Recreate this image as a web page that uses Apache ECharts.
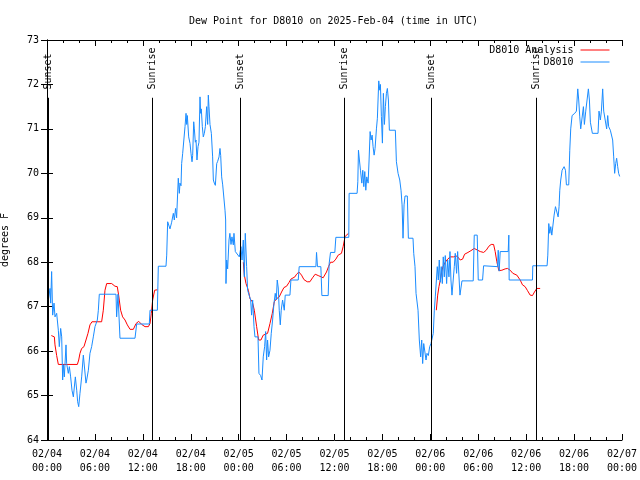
<!DOCTYPE html>
<html><head><meta charset="utf-8">
<script src="https://cdn.jsdelivr.net/npm/echarts@6/dist/echarts.min.js"></script>
<style>html,body{margin:0;padding:0;background:#fff}#c{width:640px;height:480px}</style>
</head><body><div id="c"></div><script>
// ---- data (hours since 2025-02-04 00:00 UTC) ----
const titleText = 'Dew Point for D8010 on 2025-Feb-04 (time in UTC)';
const yTicks = [64, 65, 66, 67, 68, 69, 70, 71, 72, 73];
const xTickHours = [0, 6, 12, 18, 24, 30, 36, 42, 48, 54, 60, 66, 72];

const obsHours = [0.17,0.38,0.46,0.58,0.71,0.88,1.0,1.21,1.42,1.54,1.71,1.84,1.96,2.05,2.17,2.38,2.46,2.67,2.80,2.96,3.13,3.30,3.42,3.55,3.72,3.84,3.97,4.13,4.34,4.55,4.76,4.88,4.97,5.18,5.38,5.59,5.80,6.01,6.30,6.43,6.55,8.64,8.72,8.89,9.14,11.02,11.23,12.81,12.90,13.82,13.94,14.90,14.99,15.11,15.40,15.61,15.82,15.94,16.1,16.23,16.44,16.57,16.65,16.78,16.86,16.99,17.15,17.28,17.41,17.49,17.57,17.74,17.91,18.03,18.16,18.24,18.37,18.45,18.57,18.66,18.78,18.91,19.03,19.16,19.24,19.32,19.45,19.57,19.7,19.83,19.99,20.12,20.2,20.28,20.41,20.58,20.74,20.83,20.95,21.08,21.25,21.37,21.54,21.66,21.75,21.87,22.0,22.16,22.29,22.37,22.41,22.5,22.62,22.79,22.9,23.04,23.16,23.33,23.41,23.58,23.83,24.08,24.29,24.42,24.58,24.71,24.83,25.0,25.12,25.33,25.5,25.62,25.75,25.92,26.04,26.42,26.54,26.75,26.92,27.08,27.25,27.38,27.5,27.62,27.75,27.92,28.08,28.25,28.42,28.58,28.71,28.83,28.96,29.08,29.21,29.33,29.5,29.71,29.83,30.42,30.54,31.46,31.58,33.67,33.75,33.87,34.29,34.42,35.21,35.33,35.5,36.04,36.17,37.79,37.83,38.83,38.92,39.0,39.12,39.25,39.42,39.54,39.67,39.79,39.92,40.04,40.21,40.33,40.46,40.58,40.71,40.83,40.96,41.08,41.25,41.37,41.54,41.67,41.75,41.87,42.0,42.12,42.25,42.37,42.5,42.62,42.75,42.87,43.62,43.75,43.96,44.17,44.33,44.46,44.58,44.71,44.83,45.12,45.25,45.83,45.92,46.08,46.21,46.46,46.62,46.79,46.92,47.04,47.17,47.33,47.46,47.58,47.75,47.92,48.08,48.21,48.37,48.5,48.62,48.79,48.87,49.0,49.12,49.25,49.37,49.5,49.62,49.75,49.87,50.04,50.17,50.33,50.46,50.58,50.71,50.87,51.0,51.12,51.29,51.42,51.58,51.71,51.87,51.96,53.37,53.5,53.87,54.0,54.54,54.67,56.42,56.5,56.62,56.75,57.75,57.83,57.87,60.79,60.83,62.62,62.71,62.83,62.96,63.08,63.21,63.37,63.5,63.67,63.83,64.0,64.12,64.21,64.33,64.5,64.62,64.75,64.92,65.04,65.33,65.46,65.58,65.75,66.08,66.29,66.46,66.58,66.71,66.83,67.04,67.17,67.29,67.46,67.67,67.79,67.92,68.04,68.29,69.0,69.12,69.29,69.42,69.58,69.71,69.96,70.08,70.21,70.33,70.54,70.71,70.83,70.96,71.08,71.21,71.33,71.46,71.58,71.71];
const obsValues = [67.15,67.41,67.08,67.79,66.81,67.08,66.77,66.85,66.47,66.10,66.51,66.32,65.35,65.69,65.42,66.14,65.72,65.5,65.65,65.42,65.12,64.97,64.97,65.42,65.12,64.86,64.75,65.05,65.42,65.91,65.91,65.28,65.35,65.57,65.95,66.10,66.32,66.55,66.7,66.92,67.28,67.28,66.77,67.28,66.29,66.29,66.61,66.61,66.92,66.92,67.91,67.91,68.16,68.91,68.75,68.9,69.1,68.95,69.21,69.0,69.89,69.55,69.78,69.72,70.22,70.45,70.45,71.05,71.35,71.1,71.3,70.82,70.67,70.45,70.26,70.4,71.16,71.0,70.7,70.75,70.3,70.6,70.7,71.72,71.35,71.45,71.05,70.82,70.9,71.05,71.5,71.1,71.76,71.5,71.1,70.9,70.37,69.85,69.78,69.73,70.22,70.27,70.37,70.56,70.4,69.92,69.74,69.74,69.17,68.95,67.52,68.05,67.85,68.5,68.65,68.4,68.57,68.39,68.65,68.24,68.2,68.12,68.35,68.05,68.5,67.67,68.65,67.9,67.37,67.37,67.15,66.81,67.15,66.55,66.32,66.32,65.5,65.45,65.35,65.87,66.1,66.44,65.8,66.25,65.87,66.02,66.4,66.7,67.07,67.3,67.15,67.6,67.42,66.92,66.59,66.92,67.15,66.92,67.26,67.26,67.6,67.6,67.9,67.9,68.22,67.9,67.9,67.25,67.25,67.97,68.22,68.22,68.56,68.56,69.55,69.55,69.81,70.52,70.3,70.07,69.78,70.07,69.7,70.04,69.62,69.92,69.78,70.3,70.94,70.75,70.86,70.6,70.41,70.56,71.0,71.24,72.08,71.87,72.0,71.28,70.68,71.8,71.1,71.5,71.8,71.91,71.65,70.97,70.97,70.26,70.0,69.85,69.62,69.29,68.54,69.29,69.49,69.49,68.54,68.54,68.2,67.9,67.3,66.92,66.25,65.87,66.25,65.72,66.17,66.17,65.8,65.95,65.9,66.1,66.17,66.17,66.4,66.92,67.22,67.22,67.9,67.6,68.05,67.55,67.9,67.52,68.12,67.67,68.15,67.52,68.05,67.67,68.24,67.6,67.26,67.26,67.9,68.2,67.75,68.24,68.27,67.26,67.26,67.58,67.58,68.61,68.61,67.6,67.6,67.92,67.9,68.27,67.8,68.24,68.24,68.61,67.6,67.6,67.92,67.92,68.16,68.87,68.65,68.8,68.61,68.61,69.06,69.25,69.25,69.02,69.25,69.62,69.85,70.07,70.07,70.15,70.07,69.74,69.74,70.52,71.0,71.3,71.35,71.4,71.9,71.65,71.27,71.0,71.0,71.5,71.1,71.4,71.4,71.9,71.65,71.15,70.9,70.9,71.4,71.2,71.4,71.9,71.4,71.4,71.0,71.3,71.05,70.97,70.97,70.75,70.37,70.0,70.22,70.34,70.15,70.0,69.93];

// analysis (null = gap between nightly runs)
const anaHours = [0.54,0.92,1.0,1.21,1.42,1.63,2.25,3.8,3.97,4.13,4.34,4.63,4.88,5.13,5.38,5.63,6.84,7.05,7.26,7.47,7.68,8.1,8.51,8.8,8.97,9.22,9.47,9.77,10.06,10.4,10.81,11.15,11.48,11.86,12.27,12.69,12.9,13.06,13.23,13.48,13.82,
  19.0,
  24.58,24.71,24.92,25.21,25.42,25.71,25.96,26.25,26.5,26.79,27.08,27.62,27.92,28.21,28.46,28.75,29.08,29.37,29.67,30.0,30.29,30.54,31.04,31.25,31.54,31.87,32.17,32.58,32.92,33.25,33.58,33.96,34.58,35.0,35.25,35.5,35.83,36.17,36.46,36.87,37.08,37.33,37.75,
  43.0,
  48.75,48.92,49.08,49.25,49.42,49.58,49.87,50.17,50.5,50.92,51.33,51.75,52.04,52.29,52.71,53.08,53.5,53.92,54.25,54.67,55.0,55.33,55.62,55.92,56.12,56.33,56.58,56.96,57.37,57.67,58.0,58.33,58.83,59.25,59.54,59.87,60.17,60.5,60.79,61.04,61.33,61.75];
const anaValues = [66.35,66.32,66.14,65.9,65.7,65.66,65.7,65.7,65.8,65.95,66.06,66.1,66.25,66.4,66.59,66.66,66.66,66.92,67.37,67.52,67.56,67.52,67.46,67.45,67.26,66.92,66.77,66.7,66.59,66.49,66.49,66.62,66.67,66.6,66.55,66.55,66.62,66.85,67.15,67.37,67.38,
  null,
  68.0,67.71,67.52,67.37,67.18,67.11,66.92,66.55,66.25,66.25,66.36,66.4,66.62,66.85,67.11,67.18,67.22,67.33,67.43,67.46,67.54,67.62,67.67,67.73,67.78,67.71,67.61,67.56,67.56,67.65,67.73,67.7,67.65,67.78,67.9,68.0,68.0,68.07,68.16,68.2,68.35,68.58,68.65,
  null,
  66.92,67.26,67.45,67.6,67.78,67.9,68.0,68.07,68.12,68.12,68.14,68.05,68.07,68.18,68.22,68.26,68.31,68.27,68.24,68.22,68.27,68.36,68.4,68.4,68.24,68.01,67.81,67.82,67.85,67.86,67.82,67.75,67.71,67.6,67.49,67.45,67.36,67.26,67.25,67.33,67.41,67.41];

const sunHours = [0.17, 13.19, 24.2, 37.23, 48.12, 61.27];
const sunNames = ['Sunset', 'Sunrise', 'Sunset', 'Sunrise', 'Sunset', 'Sunrise'];

// ---- layout constants ----
const FONT = 'DejaVu Sans Mono';
const SUN_LINE_TOP = 71.7;
const SUN_LABEL_Y = 71.84;

function pad(n){ return (n < 10 ? '0' : '') + n; }
function fmtX(v){
  const d = 4 + Math.floor(v / 24);
  const h = v % 24;
  return '02/' + pad(d) + '\n' + pad(h) + ':00';
}

const chart = echarts.init(document.getElementById('c'), null, {renderer: 'canvas'});
const obsData = obsHours.map((t, i) => [t, obsValues[i]]);
const anaData = anaHours.map((t, i) => [t, anaValues[i]]);
const sunData = sunHours.map((t, i) => [t, SUN_LABEL_Y, sunNames[i]]);

const txt = {fontFamily: FONT, fontSize: 10, color: '#000'};
const axisLine = {show: true, lineStyle: {color: '#000', width: 1}};
const tick = {show: true, inside: true, length: 6, lineStyle: {color: '#000', width: 1}};
const minor = {show: true, splitNumber: 3, length: 3, lineStyle: {color: '#000', width: 1}};
const legendBase = {right: 30.5, padding: 0, align: 'right', orient: 'vertical', icon: 'rect', itemWidth: 29, itemHeight: 1, selectedMode: false,
  textStyle: Object.assign({padding: [0, 2, 0, 0]}, txt)};

chart.setOption({
  animation: false,
  backgroundColor: '#fff',
  textStyle: {fontFamily: FONT},
  title: {text: titleText, left: 184, top: 11, textStyle: Object.assign({fontWeight: 'normal'}, txt)},
  grid: {left: 47, right: 18, top: 40, bottom: 40, containLabel: false, outerBoundsMode: 'none'},
  legend: [
    Object.assign({data: ['D8010 Analysis'], top: 45}, legendBase),
    Object.assign({data: ['D8010'], top: 57}, legendBase)
  ],
  xAxis: [
    {type: 'value', min: xTickHours[0], max: xTickHours[xTickHours.length - 1], interval: 6, position: 'bottom',
     axisLine, axisTick: tick, minorTick: minor, splitLine: {show: false}, minorSplitLine: {show: false},
     axisLabel: Object.assign({formatter: fmtX, lineHeight: 14, margin: 7}, txt)},
    {type: 'value', min: xTickHours[0], max: xTickHours[xTickHours.length - 1], interval: 6, position: 'top',
     axisLine, axisTick: tick, minorTick: minor, splitLine: {show: false}, axisLabel: {show: false}}
  ],
  yAxis: [
    {type: 'value', min: yTicks[0], max: yTicks[yTicks.length - 1], interval: 1, position: 'left',
     name: 'degrees F', nameLocation: 'middle', nameGap: 37, nameRotate: 90, nameTextStyle: txt,
     axisLine, axisTick: tick, splitLine: {show: false}, axisLabel: Object.assign({margin: 8}, txt)},
    {type: 'value', min: yTicks[0], max: yTicks[yTicks.length - 1], interval: 1, position: 'right',
     axisLine, axisTick: tick, splitLine: {show: false}, axisLabel: {show: false}}
  ],
  series: [
    {name: 'D8010 Analysis', type: 'line', data: anaData, showSymbol: false, symbol: 'none', connectNulls: false,
     lineStyle: {color: '#ff0000', width: 1}, itemStyle: {color: '#ff0000'}, z: 3},
    {name: 'D8010', type: 'line', data: obsData, showSymbol: false, symbol: 'none',
     lineStyle: {color: '#1a8cff', width: 1}, itemStyle: {color: '#1a8cff'}, z: 4},
    {name: 'sun', type: 'scatter', data: sunData, symbolSize: 0, itemStyle: {color: '#000'}, silent: true, z: 5,
     label: Object.assign({show: true, formatter: p => p.data[2], position: 'inside', align: 'left', verticalAlign: 'middle', rotate: 90, offset: [2, 0], textBorderWidth: 0, opacity: 1}, txt),
     markLine: {symbol: 'none', silent: true, animation: false, label: {show: false},
       lineStyle: {color: '#000', width: 1, type: 'solid'},
       data: sunHours.map(t => [{coord: [t, SUN_LINE_TOP]}, {coord: [t, yTicks[0]]}])}}
  ]
});
</script></body></html>
